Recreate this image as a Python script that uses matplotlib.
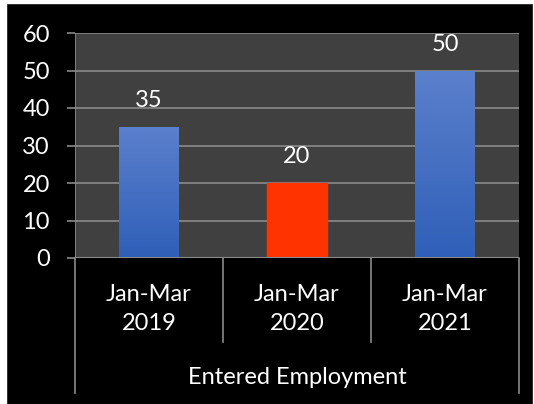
import numpy as np
import matplotlib
matplotlib.use("Agg")
import matplotlib.pyplot as plt
from matplotlib.patches import Rectangle
from matplotlib.colors import LinearSegmentedColormap

plt.rcParams['font.family'] = ['Lato', 'DejaVu Sans']

# data
periods = ["Jan-Mar\n2019", "Jan-Mar\n2020", "Jan-Mar\n2021"]
values = [35, 20, 50]
group_label = "Entered Employment"
yticks = [0, 10, 20, 30, 40, 50, 60]

W, H = 534, 404
FS = 17
fig = plt.figure(figsize=(W / 100, H / 100), dpi=100)
fig.patch.set_facecolor('black')

# thin white frame at top/left like the screenshot
fig.patches.append(Rectangle((0, 1 - 3 / H), 1, 3 / H, transform=fig.transFigure, color='white', zorder=0))
fig.patches.append(Rectangle((0, 0), 6 / W, 1, transform=fig.transFigure, color='white', zorder=0))
fig.patches.append(Rectangle((1 - 1 / W, 0), 1 / W, 1, transform=fig.transFigure, color='white', zorder=0))

ax = fig.add_axes([75 / W, (H - 258) / H, 444 / W, 225 / H])
ax.set_facecolor('#404040')
ax.set_xlim(-0.5, len(values) - 0.5)
ax.set_ylim(0, 60)

grid_c = '#8a8a8a'
for s in ax.spines.values():
    s.set_visible(False)
for t in yticks[1:]:
    ax.axhline(t, color=grid_c, lw=1.2, zorder=1)
ax.axhline(0, color=grid_c, lw=1.5, zorder=3)
ax.axvline(-0.5, color=grid_c, lw=1.2, zorder=3)

ax.set_yticks(yticks)
ax.set_yticklabels([str(t) for t in yticks])
ax.tick_params(axis='y', colors=grid_c, length=6, width=1.2, pad=12, labelcolor='white', labelsize=FS)
ax.set_xticks([])

blue_cmap = LinearSegmentedColormap.from_list('b', ['#2f5fb8', '#5b80cc'])
grad = np.linspace(0, 1, 256).reshape(-1, 1)
bar_colors = ['grad', '#ff3300', 'grad']
bars = ax.bar(range(len(values)), values, width=0.405, color='none', zorder=2)
for b, c in zip(bars, bar_colors):
    x0, y0, w, h = b.get_x(), b.get_y(), b.get_width(), b.get_height()
    if c == 'grad':
        im = ax.imshow(grad, cmap=blue_cmap, origin='lower', aspect='auto',
                       extent=[x0, x0 + w, y0, y0 + h], zorder=2)
        im.set_clip_path(b)
    else:
        ax.add_patch(Rectangle((x0, y0), w, h, color=c, zorder=2))
    ax.annotate(str(int(h)), (x0 + w / 2, h), xytext=(0, 19), textcoords='offset points',
                ha='center', va='center', color='white', fontsize=FS)
ax.set_xlim(-0.5, len(values) - 0.5)
ax.set_ylim(0, 60)

# multi-level category axis below the plot
tr = ax.get_xaxis_transform()
inner = -84 / 225
outer = -135 / 225
for i in range(len(values) + 1):
    bot = outer if i in (0, len(values)) else inner
    ax.plot([i - 0.5, i - 0.5], [0, bot], color=grid_c, lw=1.2, transform=tr, clip_on=False)
for i, lab in enumerate(periods):
    ax.text(i, -51 / 225, lab, transform=tr, ha='center', va='center', color='white',
            fontsize=FS, linespacing=1.45)
ax.text(1, -119 / 225, group_label, transform=tr, ha='center', va='center', color='white', fontsize=FS)

fig.savefig('out.png', dpi=100, facecolor=fig.get_facecolor())
